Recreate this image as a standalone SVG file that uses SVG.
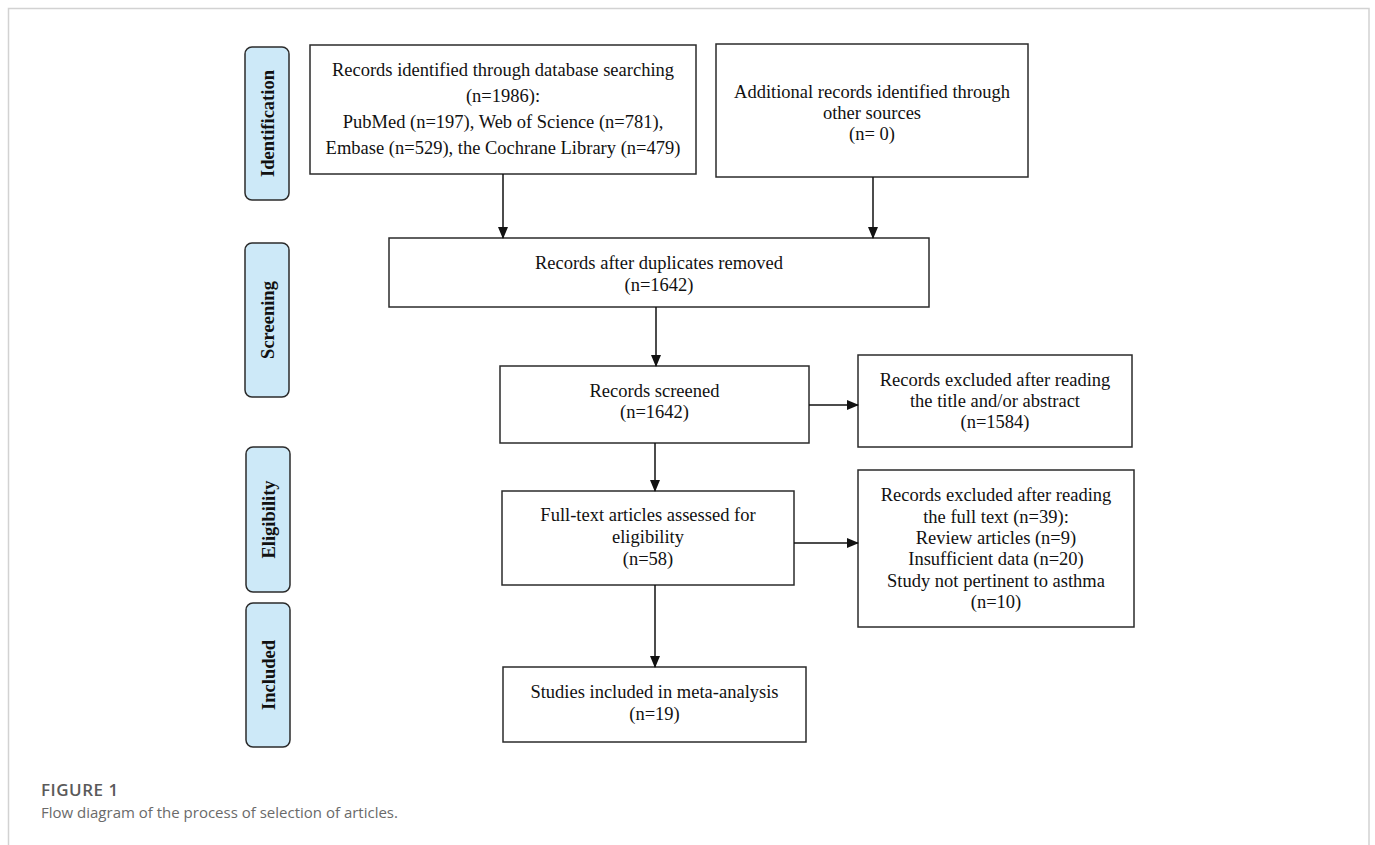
<svg xmlns="http://www.w3.org/2000/svg" width="1375" height="845" viewBox="0 0 1375 845">
<defs>
<style>
.frame{fill:none;stroke:#d2d2d2;stroke-width:1.5}
.box{fill:#fff;stroke:#2b2b2b;stroke-width:1.5}
.lab{fill:#cde9f8;stroke:#2b2b2b;stroke-width:1.5}
.t{font-family:"Liberation Serif","Times New Roman",serif;font-size:18.5px;fill:#111;text-anchor:middle}
.lt{font-family:"Liberation Serif","Times New Roman",serif;font-size:18.5px;font-weight:bold;fill:#111;text-anchor:middle}
.conn{stroke:#111;stroke-width:1.5;fill:none;marker-end:url(#ah)}
.cap1{font-family:"Open Sans",sans-serif;font-size:17px;font-weight:600;fill:#5a5a5a;letter-spacing:0.5px}
.cap2{font-family:"Open Sans",sans-serif;font-size:15px;fill:#6a6a6a}
</style>
<marker id="ah" markerWidth="12" markerHeight="12" refX="11" refY="6" orient="auto" markerUnits="userSpaceOnUse">
<path d="M0,1 L12,6 L0,11 Z" fill="#111"/>
</marker>
</defs>
<rect x="0" y="0" width="1375" height="845" fill="#fff"/>
<path class="frame" d="M8.5,850 V8.5 H1369 V850"/>

<g id="label-identification">
<rect class="lab" x="245" y="47" width="44" height="153" rx="7"/>
<text class="lt" transform="translate(273.5,123.5) rotate(-90)">Identification</text>
</g>
<g id="label-screening">
<rect class="lab" x="245" y="243" width="44" height="154" rx="7"/>
<text class="lt" transform="translate(273.5,320) rotate(-90)">Screening</text>
</g>
<g id="label-eligibility">
<rect class="lab" x="246" y="447" width="44" height="145" rx="7"/>
<text class="lt" transform="translate(274.5,519.5) rotate(-90)">Eligibility</text>
</g>
<g id="label-included">
<rect class="lab" x="246" y="603" width="44" height="144" rx="7"/>
<text class="lt" transform="translate(274.5,675) rotate(-90)">Included</text>
</g>

<g id="node-database">
<rect class="box" x="310" y="45" width="386" height="129"/>
<text class="t" x="503" y="76">Records identified through database searching</text>
<text class="t" x="503" y="102">(n=1986):</text>
<text class="t" x="503" y="128">PubMed (n=197), Web of Science (n=781),</text>
<text class="t" x="503" y="154">Embase (n=529), the Cochrane Library (n=479)</text>
</g>
<g id="node-other">
<rect class="box" x="716" y="44" width="312" height="133"/>
<text class="t" x="872" y="98">Additional records identified through</text>
<text class="t" x="872" y="119">other sources</text>
<text class="t" x="872" y="140">(n= 0)</text>
</g>
<g id="node-duplicates">
<rect class="box" x="389" y="238" width="540" height="69"/>
<text class="t" x="659" y="269">Records after duplicates removed</text>
<text class="t" x="659" y="291">(n=1642)</text>
</g>
<g id="node-screened">
<rect class="box" x="500" y="366" width="309" height="77"/>
<text class="t" x="654.5" y="397">Records screened</text>
<text class="t" x="654.5" y="418">(n=1642)</text>
</g>
<g id="node-excluded-title">
<rect class="box" x="858" y="355" width="274" height="92"/>
<text class="t" x="995" y="386">Records excluded after reading</text>
<text class="t" x="995" y="407">the title and/or abstract</text>
<text class="t" x="995" y="428">(n=1584)</text>
</g>
<g id="node-fulltext">
<rect class="box" x="502" y="491" width="292" height="94"/>
<text class="t" x="648" y="521">Full-text articles assessed for</text>
<text class="t" x="648" y="543">eligibility</text>
<text class="t" x="648" y="565">(n=58)</text>
</g>
<g id="node-excluded-fulltext">
<rect class="box" x="858" y="470" width="276" height="157"/>
<text class="t" x="996" y="501">Records excluded after reading</text>
<text class="t" x="996" y="523">the full text (n=39):</text>
<text class="t" x="996" y="544">Review articles (n=9)</text>
<text class="t" x="996" y="565">Insufficient data (n=20)</text>
<text class="t" x="996" y="587">Study not pertinent to asthma</text>
<text class="t" x="996" y="608">(n=10)</text>
</g>
<g id="node-included">
<rect class="box" x="503" y="667" width="303" height="75"/>
<text class="t" x="654.5" y="698">Studies included in meta-analysis</text>
<text class="t" x="654.5" y="720">(n=19)</text>
</g>

<g id="connectors">
<line class="conn" x1="503" y1="174" x2="503" y2="238"/>
<line class="conn" x1="873" y1="177" x2="873" y2="238"/>
<line class="conn" x1="656" y1="307" x2="656" y2="366"/>
<line class="conn" x1="809" y1="405" x2="858" y2="405"/>
<line class="conn" x1="655" y1="443" x2="655" y2="491"/>
<line class="conn" x1="794" y1="543" x2="858" y2="543"/>
<line class="conn" x1="655" y1="585" x2="655" y2="667"/>
</g>

<g id="caption">
<text class="cap1" x="41" y="796">FIGURE 1</text>
<text class="cap2" x="41" y="818">Flow diagram of the process of selection of articles.</text>
</g>
</svg>
